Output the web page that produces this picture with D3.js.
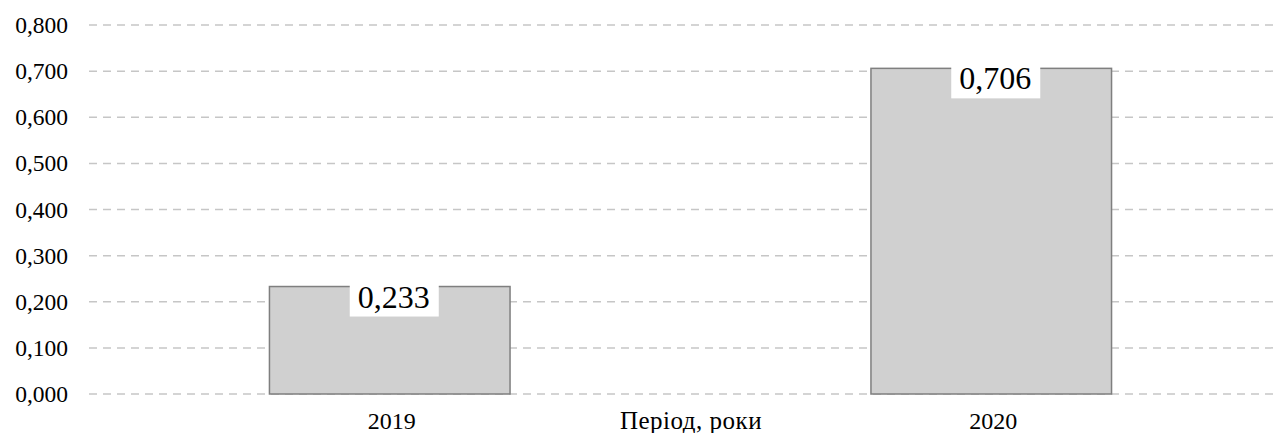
<!DOCTYPE html>
<html>
<head>
<meta charset="utf-8">
<script src="https://cdn.jsdelivr.net/npm/d3@7/dist/d3.min.js"></script>
<style>
  body { margin: 0; background: #fff; }
  svg text { font-family: "Liberation Serif", "Times New Roman", serif !important; fill: #000; }
</style>
</head>
<body>
<script>
// chart data
const years = ['2019', '2020'];
const values = [0.233, 0.706];
const yTicks = [0, 0.1, 0.2, 0.3, 0.4, 0.5, 0.6, 0.7, 0.8];
const xTitle = 'Період, роки';

const width = 1279;
const height = 433;

const svg = d3.select('body')
  .append('svg')
  .attr('width', width)
  .attr('height', height);

// scales
const x = d3.scaleBand()
  .domain(years)
  .range([89, 1292])
  .paddingInner(0.6)
  .paddingOuter(0.3);

const y = d3.scaleLinear()
  .domain([0, 0.8])
  .range([394, 25]);

const fmt = v => d3.format('.3f')(v).replace('.', ',');

// gridlines
svg.append('g')
  .selectAll('line')
  .data(yTicks)
  .join('line')
  .attr('x1', 89)
  .attr('x2', width)
  .attr('y1', d => y(d))
  .attr('y2', d => y(d))
  .attr('stroke', '#c6c6c6')
  .attr('stroke-width', 1.5)
  .attr('stroke-dasharray', '8,6');

// y axis labels
const yAxis = d3.axisLeft(y)
  .tickValues(yTicks)
  .tickFormat(fmt)
  .tickSize(0)
  .tickPadding(0);

svg.append('g')
  .attr('transform', 'translate(68,0)')
  .call(yAxis)
  .call(g => g.select('.domain').remove())
  .call(g => g.selectAll('text')
    .style('font-size', '23.5px')
    .attr('fill', '#000'));

// bars
svg.append('g')
  .selectAll('rect')
  .data(values)
  .join('rect')
  .attr('x', (d, i) => x(years[i]))
  .attr('y', d => y(d))
  .attr('width', x.bandwidth())
  .attr('height', d => y(0) - y(d))
  .attr('fill', '#d0d0d0')
  .attr('stroke', '#7f7f7f')
  .attr('stroke-width', 1.5);

// value labels with white boxes
const labels = svg.append('g')
  .selectAll('g')
  .data(values)
  .join('g')
  .attr('transform', (d, i) => `translate(${x(years[i]) + x.bandwidth() / 2 + 4},${y(d)})`);

labels.append('rect')
  .attr('x', -44)
  .attr('y', -6)
  .attr('width', 89)
  .attr('height', 36)
  .attr('fill', '#fff');

labels.append('text')
  .attr('text-anchor', 'middle')
  .attr('y', 21)
  .style('font-size', '32px')
  .text(d => fmt(d));

// x axis labels
const xAxis = d3.axisBottom(x)
  .tickSize(0)
  .tickPadding(0);

svg.append('g')
  .attr('transform', 'translate(2,412)')
  .call(xAxis)
  .call(g => g.select('.domain').remove())
  .call(g => g.selectAll('text')
    .style('font-size', '24px')
    .attr('fill', '#000'));

// axis title
svg.append('text')
  .attr('x', 691)
  .attr('y', 429)
  .attr('text-anchor', 'middle')
  .style('font-size', '25px')
  .style('letter-spacing', '0.5px')
  .text(xTitle);
</script>
</body>
</html>
